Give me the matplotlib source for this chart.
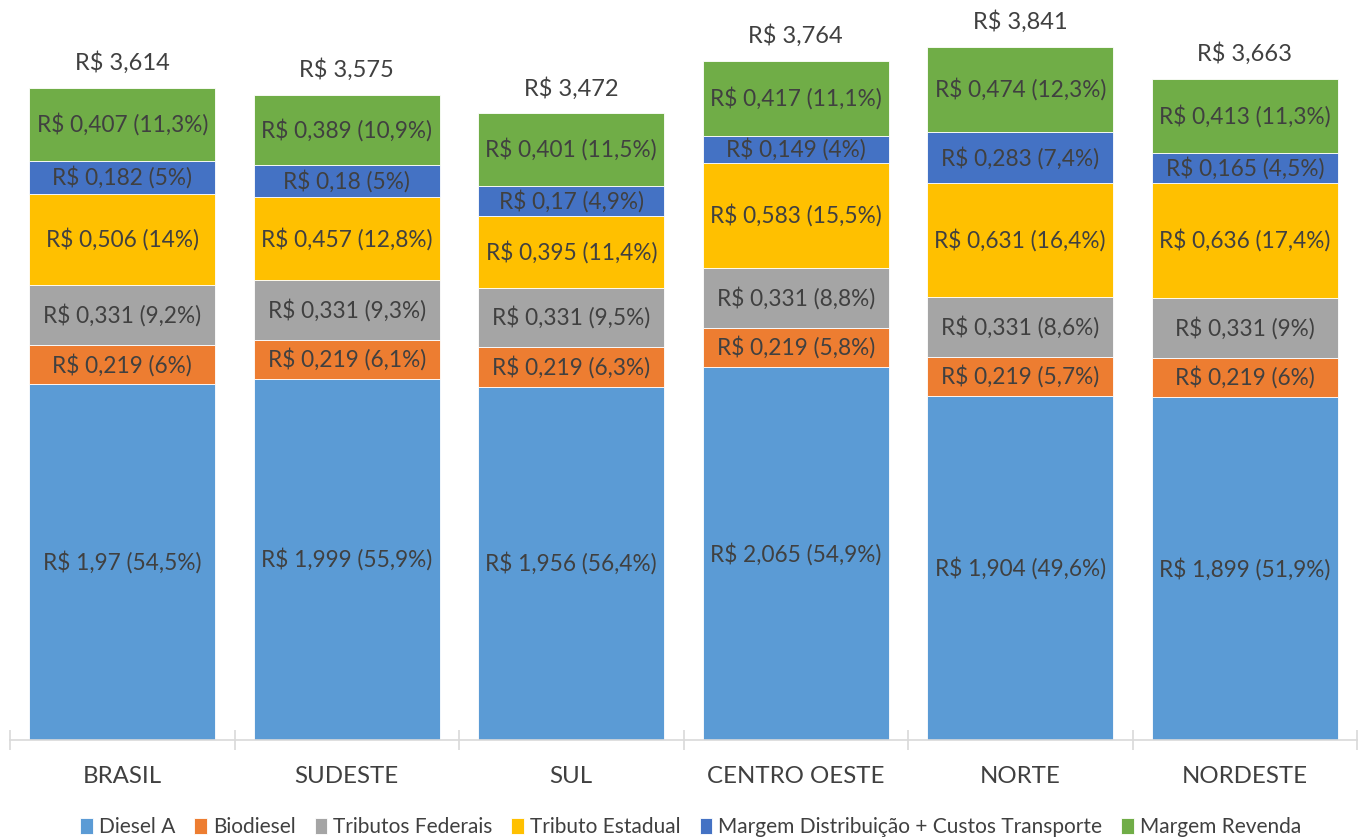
import matplotlib
matplotlib.use("Agg")
import matplotlib.pyplot as plt
import numpy as np

plt.rcParams["font.family"] = ["Lato", "DejaVu Sans"]

REGIONS = ["BRASIL", "SUDESTE", "SUL", "CENTRO OESTE", "NORTE", "NORDESTE"]
SERIES = [
    "Diesel A",
    "Biodiesel",
    "Tributos Federais",
    "Tributo Estadual",
    "Margem Distribuição + Custos Transporte",
    "Margem Revenda",
]
COLORS = ["#5B9BD5", "#ED7D31", "#A5A5A5", "#FFC000", "#4472C4", "#70AD47"]

diesel_a = [1.97, 1.999, 1.956, 2.065, 1.904, 1.899]
biodiesel = [0.219, 0.219, 0.219, 0.219, 0.219, 0.219]
trib_fed = [0.331, 0.331, 0.331, 0.331, 0.331, 0.331]
trib_est = [0.506, 0.457, 0.395, 0.583, 0.631, 0.636]
marg_dist = [0.182, 0.18, 0.17, 0.149, 0.283, 0.165]
marg_rev = [0.407, 0.389, 0.401, 0.417, 0.474, 0.413]

pct_diesel_a = [54.5, 55.9, 56.4, 54.9, 49.6, 51.9]
pct_biodiesel = [6, 6.1, 6.3, 5.8, 5.7, 6]
pct_trib_fed = [9.2, 9.3, 9.5, 8.8, 8.6, 9]
pct_trib_est = [14, 12.8, 11.4, 15.5, 16.4, 17.4]
pct_marg_dist = [5, 5, 4.9, 4, 7.4, 4.5]
pct_marg_rev = [11.3, 10.9, 11.5, 11.1, 12.3, 11.3]

totals = [3.614, 3.575, 3.472, 3.764, 3.841, 3.663]

values = [diesel_a, biodiesel, trib_fed, trib_est, marg_dist, marg_rev]
pcts = [pct_diesel_a, pct_biodiesel, pct_trib_fed, pct_trib_est, pct_marg_dist, pct_marg_rev]

TEXT = "#404040"


def br(v):
    return f"{v:g}".replace(".", ",")


fig = plt.figure(figsize=(13.65, 8.4), dpi=100)
ax = fig.add_axes([10 / 1365, 100 / 840, 1347 / 1365, 740 / 840])

x = np.arange(len(REGIONS))
bottom = np.zeros(len(REGIONS))
for name, vals, pc, color in zip(SERIES, values, pcts, COLORS):
    vals = np.array(vals)
    ax.bar(x, vals, bottom=bottom, width=0.83, color=color, label=name,
           edgecolor="white", linewidth=0.6)
    for xi, b, v, p in zip(x, bottom, vals, pc):
        ax.text(xi, b + v / 2, f"R$ {br(v)} ({br(p)}%)", ha="center", va="center",
                fontsize=16.3, color=TEXT)
    bottom += vals

for xi, top, t in zip(x, bottom, totals):
    ax.annotate(f"R$ {br(t)}", (xi, top), xytext=(0, 10), textcoords="offset points",
                ha="center", va="bottom", fontsize=17, color=TEXT)

ax.set_xlim(-0.5, len(REGIONS) - 0.5)
ax.set_ylim(0, 4.1)
ax.set_yticks([])
for s in ("top", "right", "left"):
    ax.spines[s].set_visible(False)
ax.spines["bottom"].set_color("#D9D9D9")
ax.spines["bottom"].set_linewidth(1.2)

ax.set_xticks(np.arange(-0.5, len(REGIONS), 1.0))
ax.set_xticklabels([])
ax.tick_params(axis="x", direction="inout", length=14, width=1.2, color="#D9D9D9")
for xi, r in zip(x, REGIONS):
    ax.text(xi, -0.2, r, ha="center", va="center", fontsize=17.3, color=TEXT,
            transform=ax.transData, clip_on=False)

handles, labels = ax.get_legend_handles_labels()
fig.legend(handles, labels, loc="center", bbox_to_anchor=(0.506, 13 / 840), ncol=6,
           frameon=False, fontsize=15, handlelength=0.6, handleheight=0.8,
           handletextpad=0.3, columnspacing=0.9, labelcolor=TEXT)

fig.savefig("out.png", dpi=100)
